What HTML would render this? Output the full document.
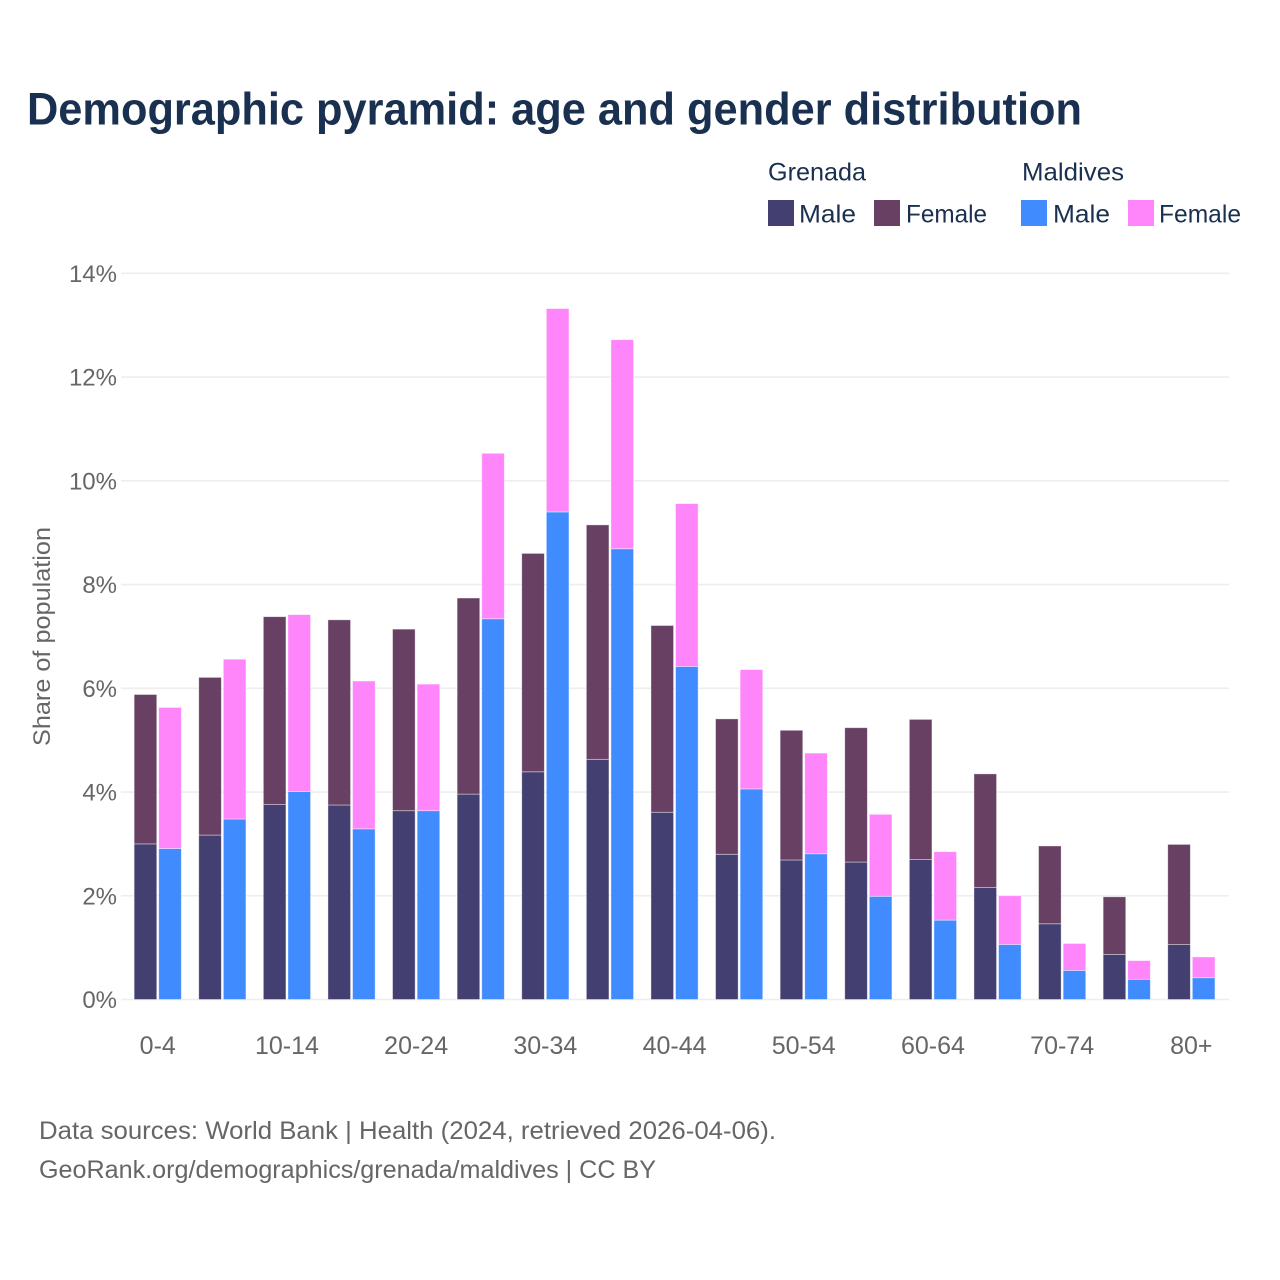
<!DOCTYPE html>
<html lang="en">
<head>
<meta charset="utf-8">
<title>Demographic pyramid</title>
<style>
html,body{margin:0;padding:0;background:#fff;}
svg{display:block;font-family:"Liberation Sans",sans-serif;}
</style>
</head>
<body>
<svg id="chart" xmlns="http://www.w3.org/2000/svg" width="1280" height="1280" viewBox="0 0 1280 1280">
  <rect width="1280" height="1280" fill="#ffffff"/>
  <text x="27" y="124.5" font-size="45" font-weight="700" fill="#1a3050" textLength="1055" lengthAdjust="spacingAndGlyphs">Demographic pyramid: age and gender distribution</text>

  <g font-size="25" fill="#1a3050">
    <text x="768" y="180.5" textLength="98" lengthAdjust="spacingAndGlyphs">Grenada</text>
    <text x="1022" y="180.5" textLength="102" lengthAdjust="spacingAndGlyphs">Maldives</text>
    <rect x="768" y="200" width="26" height="26" fill="#433f70"/>
    <text x="799" y="222.5" textLength="57" lengthAdjust="spacingAndGlyphs">Male</text>
    <rect x="874" y="200" width="26" height="26" fill="#674064"/>
    <text x="906" y="222.5" textLength="81" lengthAdjust="spacingAndGlyphs">Female</text>
    <rect x="1021" y="200" width="26" height="26" fill="#408cff"/>
    <text x="1053" y="222.5" textLength="57" lengthAdjust="spacingAndGlyphs">Male</text>
    <rect x="1128" y="200" width="26" height="26" fill="#ff85fa"/>
    <text x="1159" y="222.5" textLength="82" lengthAdjust="spacingAndGlyphs">Female</text>
  </g>

  <g id="grid"></g>
  <g id="yticks"></g>
  <g id="bars"></g>
  <g id="xticks"></g>

  <text transform="translate(50,636.5) rotate(-90)" text-anchor="middle" font-size="24" fill="#666666" textLength="219" lengthAdjust="spacingAndGlyphs">Share of population</text>

  <text x="39" y="1139" font-size="25" fill="#666666" textLength="737" lengthAdjust="spacingAndGlyphs">Data sources: World Bank | Health (2024, retrieved 2026-04-06).</text>
  <text x="39" y="1178" font-size="25" fill="#666666" textLength="617" lengthAdjust="spacingAndGlyphs">GeoRank.org/demographics/grenada/maldives | CC BY</text>
</svg>
<script>
var ageGroups = ['0-4','5-9','10-14','15-19','20-24','25-29','30-34','35-39','40-44','45-49','50-54','55-59','60-64','65-69','70-74','75-79','80+'];
var xTickLabels = ['0-4','10-14','20-24','30-34','40-44','50-54','60-64','70-74','80+'];
var yTickValues = [0,2,4,6,8,10,12,14];
var grenadaMale = [3.00,3.17,3.76,3.75,3.64,3.96,4.39,4.63,3.61,2.80,2.69,2.65,2.70,2.16,1.46,0.87,1.06];
var grenadaFemale = [2.88,3.04,3.62,3.57,3.50,3.78,4.21,4.52,3.60,2.61,2.50,2.59,2.70,2.19,1.50,1.11,1.93];
var maldivesMale = [2.91,3.48,4.01,3.29,3.64,7.34,9.40,8.69,6.42,4.06,2.81,1.99,1.53,1.06,0.56,0.39,0.42];
var maldivesFemale = [2.72,3.08,3.41,2.85,2.44,3.19,3.92,4.03,3.14,2.30,1.94,1.58,1.32,0.94,0.52,0.36,0.40];

var NS = 'http://www.w3.org/2000/svg';
var yBase = 999.5, yPerUnit = 51.87;
var xFirst = 157.75, xStep = 64.6, barW = 22.6, barGap = 2;
function yScale(v){ return yBase - v * yPerUnit; }
function xScale(i){ return xFirst + i * xStep; }
function make(tag, attrs, parent){
  var el = document.createElementNS(NS, tag);
  for (var k in attrs) el.setAttribute(k, attrs[k]);
  parent.appendChild(el);
  return el;
}

var gridG = document.getElementById('grid');
var yG = document.getElementById('yticks');
yTickValues.forEach(function(v){
  var y = yScale(v);
  var line = make('line', {x1:121, x2:1229, y1:y, y2:y, stroke:'#eeeeee', 'stroke-width':1.6}, gridG);
  
  
  var t = make('text', {x:117, y:y+8.5, 'text-anchor':'end', 'font-size':24, fill:'#666666'}, yG);
  
  
  t.textContent = v + '%';
});

var barsG = document.getElementById('bars');
function drawBar(x, v0, v1, fill, name){
  var top = yScale(v0 + v1), bottom = yScale(v0);
  var r = make('rect', {x:x, y:top, width:barW, height:bottom-top, fill:fill, stroke:'#ffffff', 'stroke-opacity':0.5, 'stroke-width':0.8}, barsG);
  
  
}
ageGroups.forEach(function(g, i){
  var c = xScale(i);
  var left = c - barW - barGap / 2;
  var right = c + barGap / 2;
  drawBar(left, 0, grenadaMale[i], '#433f70', 'bar-grenada-male');
  drawBar(left, grenadaMale[i], grenadaFemale[i], '#674064', 'bar-grenada-female');
  drawBar(right, 0, maldivesMale[i], '#408cff', 'bar-maldives-male');
  drawBar(right, maldivesMale[i], maldivesFemale[i], '#ff85fa', 'bar-maldives-female');
});

var xG = document.getElementById('xticks');
xTickLabels.forEach(function(lbl){
  var i = ageGroups.indexOf(lbl);
  var t = make('text', {x:xScale(i), y:1054, 'text-anchor':'middle', 'font-size':25, fill:'#666666'}, xG);
  
  
  t.textContent = lbl;
});
</script>
</body>
</html>
